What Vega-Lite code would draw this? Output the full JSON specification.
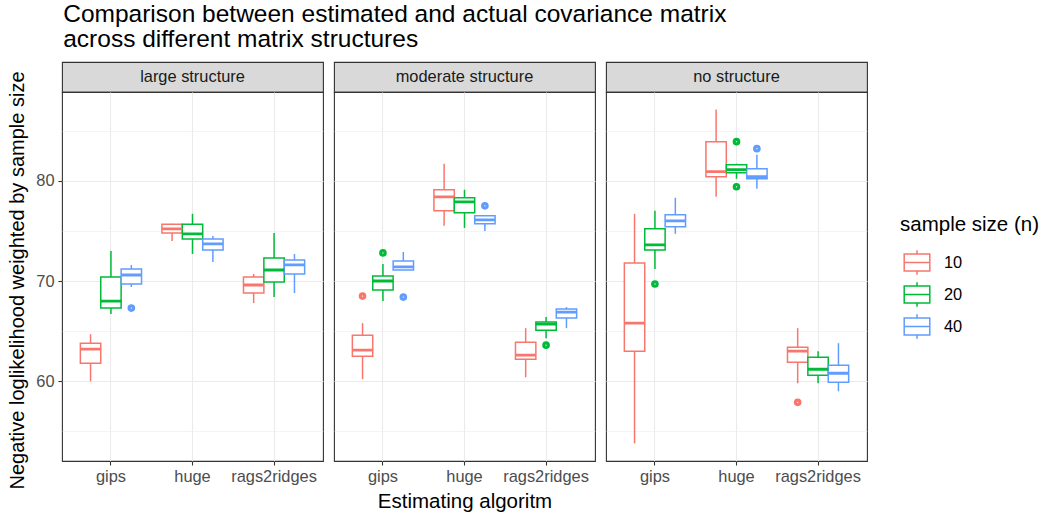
{
  "$schema": "https://vega.github.io/schema/vega-lite/v6.json",
  "background": "white",
  "padding": {"left": 7, "top": 2, "right": 5, "bottom": 5},
  "title": {"text": ["Comparison between estimated and actual covariance matrix", "across different matrix structures"], "anchor": "start", "fontSize": 24.5, "fontWeight": "normal", "color": "black", "lineHeight": 24.5, "offset": 9, "dx": 56, "font": "Liberation Sans"},
  "config": {
    "font": "Liberation Sans",
    "view": {"stroke": "#333333", "strokeWidth": 1.1},
    "axis": {"labelFont": "Liberation Sans", "labelColor": "#4D4D4D", "labelFontSize": 16.4, "tickColor": "#333333", "tickSize": 4, "tickWidth": 1.1, "domain": false, "gridColor": "#EBEBEB", "gridWidth": 1.1, "titleFont": "Liberation Sans", "titleFontSize": 20.5, "titleFontWeight": "normal", "titleColor": "black"},
    "legend": {"titleFont": "Liberation Sans", "titleFontSize": 20.5, "titleFontWeight": "normal", "titleColor": "black", "titlePadding": 13, "labelFont": "Liberation Sans", "labelFontSize": 16.4, "labelColor": "black"}
  },
  "datasets": {
    "strips": [
      {"structure": "large structure"},
      {"structure": "moderate structure"},
      {"structure": "no structure"}
    ],
    "boxes": [
      {"structure": "large structure", "algorithm": "gips", "n": "10", "lower": 60.0, "q1": 61.8, "median": 63.2, "q3": 63.8, "upper": 64.7},
      {"structure": "large structure", "algorithm": "gips", "n": "20", "lower": 66.7, "q1": 67.3, "median": 68.0, "q3": 70.4, "upper": 73.0},
      {"structure": "large structure", "algorithm": "gips", "n": "40", "lower": 69.4, "q1": 69.7, "median": 70.6, "q3": 71.2, "upper": 71.6},
      {"structure": "large structure", "algorithm": "huge", "n": "10", "lower": 74.0, "q1": 74.8, "median": 75.2, "q3": 75.65, "upper": 75.7},
      {"structure": "large structure", "algorithm": "huge", "n": "20", "lower": 72.7, "q1": 74.2, "median": 74.7, "q3": 75.65, "upper": 76.7},
      {"structure": "large structure", "algorithm": "huge", "n": "40", "lower": 71.9, "q1": 73.1, "median": 73.7, "q3": 74.2, "upper": 74.5},
      {"structure": "large structure", "algorithm": "rags2ridges", "n": "10", "lower": 67.8, "q1": 68.8, "median": 69.6, "q3": 70.4, "upper": 70.7},
      {"structure": "large structure", "algorithm": "rags2ridges", "n": "20", "lower": 68.4, "q1": 69.9, "median": 71.1, "q3": 72.3, "upper": 74.8},
      {"structure": "large structure", "algorithm": "rags2ridges", "n": "40", "lower": 68.8, "q1": 70.7, "median": 71.6, "q3": 72.1, "upper": 72.7},
      {"structure": "moderate structure", "algorithm": "gips", "n": "10", "lower": 60.2, "q1": 62.5, "median": 63.1, "q3": 64.6, "upper": 65.8},
      {"structure": "moderate structure", "algorithm": "gips", "n": "20", "lower": 68.0, "q1": 69.1, "median": 70.0, "q3": 70.5, "upper": 71.7},
      {"structure": "moderate structure", "algorithm": "gips", "n": "40", "lower": 71.1, "q1": 71.1, "median": 71.4, "q3": 72.0, "upper": 72.9},
      {"structure": "moderate structure", "algorithm": "huge", "n": "10", "lower": 75.5, "q1": 77.0, "median": 78.4, "q3": 79.1, "upper": 81.7},
      {"structure": "moderate structure", "algorithm": "huge", "n": "20", "lower": 75.3, "q1": 76.8, "median": 77.9, "q3": 78.3, "upper": 79.1},
      {"structure": "moderate structure", "algorithm": "huge", "n": "40", "lower": 75.0, "q1": 75.7, "median": 76.1, "q3": 76.5, "upper": 76.5},
      {"structure": "moderate structure", "algorithm": "rags2ridges", "n": "10", "lower": 60.4, "q1": 62.2, "median": 62.6, "q3": 63.9, "upper": 65.3},
      {"structure": "moderate structure", "algorithm": "rags2ridges", "n": "20", "lower": 64.3, "q1": 65.1, "median": 65.7, "q3": 65.9, "upper": 66.4},
      {"structure": "moderate structure", "algorithm": "rags2ridges", "n": "40", "lower": 65.3, "q1": 66.3, "median": 66.9, "q3": 67.2, "upper": 67.4},
      {"structure": "no structure", "algorithm": "gips", "n": "10", "lower": 53.8, "q1": 63.0, "median": 65.8, "q3": 71.8, "upper": 76.7},
      {"structure": "no structure", "algorithm": "gips", "n": "20", "lower": 71.2, "q1": 73.1, "median": 73.6, "q3": 75.2, "upper": 77.0},
      {"structure": "no structure", "algorithm": "gips", "n": "40", "lower": 74.7, "q1": 75.4, "median": 76.0, "q3": 76.6, "upper": 78.3},
      {"structure": "no structure", "algorithm": "huge", "n": "10", "lower": 78.4, "q1": 80.4, "median": 80.9, "q3": 83.9, "upper": 87.1},
      {"structure": "no structure", "algorithm": "huge", "n": "20", "lower": 80.2, "q1": 80.8, "median": 81.1, "q3": 81.6, "upper": 81.7},
      {"structure": "no structure", "algorithm": "huge", "n": "40", "lower": 79.2, "q1": 80.2, "median": 80.4, "q3": 81.2, "upper": 82.6},
      {"structure": "no structure", "algorithm": "rags2ridges", "n": "10", "lower": 59.8, "q1": 61.9, "median": 63.0, "q3": 63.4, "upper": 65.3},
      {"structure": "no structure", "algorithm": "rags2ridges", "n": "20", "lower": 59.8, "q1": 60.6, "median": 61.2, "q3": 62.4, "upper": 63.0},
      {"structure": "no structure", "algorithm": "rags2ridges", "n": "40", "lower": 59.0, "q1": 59.9, "median": 60.8, "q3": 61.6, "upper": 63.8}
    ],
    "outliers": [
      {"structure": "large structure", "algorithm": "gips", "n": "40", "value": 67.3},
      {"structure": "moderate structure", "algorithm": "gips", "n": "10", "value": 68.5},
      {"structure": "moderate structure", "algorithm": "gips", "n": "20", "value": 72.8},
      {"structure": "moderate structure", "algorithm": "gips", "n": "40", "value": 68.4},
      {"structure": "moderate structure", "algorithm": "huge", "n": "40", "value": 77.5},
      {"structure": "moderate structure", "algorithm": "rags2ridges", "n": "20", "value": 63.6},
      {"structure": "no structure", "algorithm": "gips", "n": "20", "value": 69.7},
      {"structure": "no structure", "algorithm": "huge", "n": "20", "value": 83.9},
      {"structure": "no structure", "algorithm": "huge", "n": "20", "value": 79.4},
      {"structure": "no structure", "algorithm": "huge", "n": "40", "value": 83.2},
      {"structure": "no structure", "algorithm": "rags2ridges", "n": "10", "value": 57.9}
    ]
  },
  "resolve": {"scale": {"stroke": "shared"}, "legend": {"stroke": "shared"}},
  "spacing": 9,
  "hconcat": [
    {
      "spacing": 0,
      "bounds": "flush",
      "vconcat": [
        {"width": 261, "height": 30, "data": {"name": "strips"}, "transform": [{"filter": "datum.structure === 'large structure'"}], "view": {"fill": "#D9D9D9", "stroke": "#333333", "strokeWidth": 1.1}, "mark": {"type": "text", "fontSize": 16.4, "color": "#1A1A1A"}, "encoding": {"text": {"field": "structure"}}},
        {"width": 261, "height": 369, "layer": [
          {"data": {"name": "boxes"}, "transform": [{"filter": "datum.structure === 'large structure'"}], "mark": {"type": "rule", "strokeWidth": 1.5}, "encoding": {
            "x": {"field": "algorithm", "type": "nominal", "scale": {"domain": ["gips", "huge", "rags2ridges"], "paddingInner": 0, "paddingOuter": 0.1}, "axis": {"title": null, "labelAngle": 0, "bandPosition": 0.5, "grid": true, "labelPadding": 3}},
            "xOffset": {"field": "n", "type": "nominal", "scale": {"domain": ["10", "20", "40"], "paddingInner": 0, "paddingOuter": 0.5}},
            "y": {"field": "lower", "type": "quantitative", "scale": {"domain": [52.05, 88.85], "nice": false, "zero": false}, "axis": {"title": "Negative loglikelihood weighted by sample size", "titleFontSize": 20, "titleY": 188, "values": [55, 60, 65, 70, 75, 80, 85], "labelExpr": "datum.value % 10 === 0 ? datum.label : ''", "gridWidth": {"condition": {"test": "datum.value % 10 === 0", "value": 1.1}, "value": 0.55}, "tickOpacity": {"condition": {"test": "datum.value % 10 === 0", "value": 1}, "value": 0}, "titlePadding": 8, "labelPadding": 4}},
            "y2": {"field": "upper"},
            "stroke": {"field": "n", "type": "nominal", "title": "sample size (n)", "scale": {"domain": ["10", "20", "40"], "range": ["#F8766D", "#00BA38", "#619CFF"]}, "legend": {"orient": "none", "legendX": 838, "legendY": 153, "symbolType": "M-1,-0.66H1V0.66H-1Z M-1,0H1 M0,-0.66V-0.95 M0,0.66V0.95", "symbolSize": 655, "symbolFillColor": "white", "symbolStrokeWidth": 1.5, "symbolOffset": 3, "labelOffset": 13, "rowPadding": 0}}
          }},
          {"data": {"name": "boxes"}, "transform": [{"filter": "datum.structure === 'large structure'"}], "mark": {"type": "bar", "fill": "white", "strokeWidth": 1.5}, "encoding": {
            "x": {"field": "algorithm", "type": "nominal"},
            "xOffset": {"field": "n", "type": "nominal"},
            "y": {"field": "q1", "type": "quantitative"},
            "y2": {"field": "q3"},
            "stroke": {"field": "n", "type": "nominal", "title": "sample size (n)"}
          }},
          {"data": {"name": "boxes"}, "transform": [{"filter": "datum.structure === 'large structure'"}], "mark": {"type": "bar", "fill": "white", "strokeWidth": 2.8}, "encoding": {
            "x": {"field": "algorithm", "type": "nominal"},
            "xOffset": {"field": "n", "type": "nominal"},
            "y": {"field": "median", "type": "quantitative"},
            "y2": {"field": "median"},
            "stroke": {"field": "n", "type": "nominal", "title": "sample size (n)"}
          }},
          {"data": {"name": "outliers"}, "transform": [{"filter": "datum.structure === 'large structure'"}], "mark": {"type": "point", "shape": "circle", "filled": false, "size": 10, "strokeWidth": 4.5, "opacity": 1}, "encoding": {
            "x": {"field": "algorithm", "type": "nominal"},
            "xOffset": {"field": "n", "type": "nominal"},
            "y": {"field": "value", "type": "quantitative"},
            "stroke": {"field": "n", "type": "nominal", "title": "sample size (n)"}
          }}
        ]}
      ]
    },
    {
      "spacing": 0,
      "bounds": "flush",
      "vconcat": [
        {"width": 261, "height": 30, "data": {"name": "strips"}, "transform": [{"filter": "datum.structure === 'moderate structure'"}], "view": {"fill": "#D9D9D9", "stroke": "#333333", "strokeWidth": 1.1}, "mark": {"type": "text", "fontSize": 16.4, "color": "#1A1A1A"}, "encoding": {"text": {"field": "structure"}}},
        {"width": 261, "height": 369, "layer": [
          {"data": {"name": "boxes"}, "transform": [{"filter": "datum.structure === 'moderate structure'"}], "mark": {"type": "rule", "strokeWidth": 1.5}, "encoding": {
            "x": {"field": "algorithm", "type": "nominal", "scale": {"domain": ["gips", "huge", "rags2ridges"], "paddingInner": 0, "paddingOuter": 0.1}, "axis": {"title": "Estimating algoritm", "labelAngle": 0, "bandPosition": 0.5, "grid": true, "labelPadding": 3, "titlePadding": 7}},
            "xOffset": {"field": "n", "type": "nominal", "scale": {"domain": ["10", "20", "40"], "paddingInner": 0, "paddingOuter": 0.5}},
            "y": {"field": "lower", "type": "quantitative", "scale": {"domain": [52.05, 88.85], "nice": false, "zero": false}, "axis": {"title": null, "values": [55, 60, 65, 70, 75, 80, 85], "labels": false, "ticks": false, "gridWidth": {"condition": {"test": "datum.value % 10 === 0", "value": 1.1}, "value": 0.55}}},
            "y2": {"field": "upper"},
            "stroke": {"field": "n", "type": "nominal", "title": "sample size (n)", "scale": {"domain": ["10", "20", "40"], "range": ["#F8766D", "#00BA38", "#619CFF"]}}
          }},
          {"data": {"name": "boxes"}, "transform": [{"filter": "datum.structure === 'moderate structure'"}], "mark": {"type": "bar", "fill": "white", "strokeWidth": 1.5}, "encoding": {
            "x": {"field": "algorithm", "type": "nominal"},
            "xOffset": {"field": "n", "type": "nominal"},
            "y": {"field": "q1", "type": "quantitative"},
            "y2": {"field": "q3"},
            "stroke": {"field": "n", "type": "nominal", "title": "sample size (n)"}
          }},
          {"data": {"name": "boxes"}, "transform": [{"filter": "datum.structure === 'moderate structure'"}], "mark": {"type": "bar", "fill": "white", "strokeWidth": 2.8}, "encoding": {
            "x": {"field": "algorithm", "type": "nominal"},
            "xOffset": {"field": "n", "type": "nominal"},
            "y": {"field": "median", "type": "quantitative"},
            "y2": {"field": "median"},
            "stroke": {"field": "n", "type": "nominal", "title": "sample size (n)"}
          }},
          {"data": {"name": "outliers"}, "transform": [{"filter": "datum.structure === 'moderate structure'"}], "mark": {"type": "point", "shape": "circle", "filled": false, "size": 10, "strokeWidth": 4.5, "opacity": 1}, "encoding": {
            "x": {"field": "algorithm", "type": "nominal"},
            "xOffset": {"field": "n", "type": "nominal"},
            "y": {"field": "value", "type": "quantitative"},
            "stroke": {"field": "n", "type": "nominal", "title": "sample size (n)"}
          }}
        ]}
      ]
    },
    {
      "spacing": 0,
      "bounds": "flush",
      "vconcat": [
        {"width": 261, "height": 30, "data": {"name": "strips"}, "transform": [{"filter": "datum.structure === 'no structure'"}], "view": {"fill": "#D9D9D9", "stroke": "#333333", "strokeWidth": 1.1}, "mark": {"type": "text", "fontSize": 16.4, "color": "#1A1A1A"}, "encoding": {"text": {"field": "structure"}}},
        {"width": 261, "height": 369, "layer": [
          {"data": {"name": "boxes"}, "transform": [{"filter": "datum.structure === 'no structure'"}], "mark": {"type": "rule", "strokeWidth": 1.5}, "encoding": {
            "x": {"field": "algorithm", "type": "nominal", "scale": {"domain": ["gips", "huge", "rags2ridges"], "paddingInner": 0, "paddingOuter": 0.1}, "axis": {"title": null, "labelAngle": 0, "bandPosition": 0.5, "grid": true, "labelPadding": 3}},
            "xOffset": {"field": "n", "type": "nominal", "scale": {"domain": ["10", "20", "40"], "paddingInner": 0, "paddingOuter": 0.5}},
            "y": {"field": "lower", "type": "quantitative", "scale": {"domain": [52.05, 88.85], "nice": false, "zero": false}, "axis": {"title": null, "values": [55, 60, 65, 70, 75, 80, 85], "labels": false, "ticks": false, "gridWidth": {"condition": {"test": "datum.value % 10 === 0", "value": 1.1}, "value": 0.55}}},
            "y2": {"field": "upper"},
            "stroke": {"field": "n", "type": "nominal", "title": "sample size (n)", "scale": {"domain": ["10", "20", "40"], "range": ["#F8766D", "#00BA38", "#619CFF"]}}
          }},
          {"data": {"name": "boxes"}, "transform": [{"filter": "datum.structure === 'no structure'"}], "mark": {"type": "bar", "fill": "white", "strokeWidth": 1.5}, "encoding": {
            "x": {"field": "algorithm", "type": "nominal"},
            "xOffset": {"field": "n", "type": "nominal"},
            "y": {"field": "q1", "type": "quantitative"},
            "y2": {"field": "q3"},
            "stroke": {"field": "n", "type": "nominal", "title": "sample size (n)"}
          }},
          {"data": {"name": "boxes"}, "transform": [{"filter": "datum.structure === 'no structure'"}], "mark": {"type": "bar", "fill": "white", "strokeWidth": 2.8}, "encoding": {
            "x": {"field": "algorithm", "type": "nominal"},
            "xOffset": {"field": "n", "type": "nominal"},
            "y": {"field": "median", "type": "quantitative"},
            "y2": {"field": "median"},
            "stroke": {"field": "n", "type": "nominal", "title": "sample size (n)"}
          }},
          {"data": {"name": "outliers"}, "transform": [{"filter": "datum.structure === 'no structure'"}], "mark": {"type": "point", "shape": "circle", "filled": false, "size": 10, "strokeWidth": 4.5, "opacity": 1}, "encoding": {
            "x": {"field": "algorithm", "type": "nominal"},
            "xOffset": {"field": "n", "type": "nominal"},
            "y": {"field": "value", "type": "quantitative"},
            "stroke": {"field": "n", "type": "nominal", "title": "sample size (n)"}
          }}
        ]}
      ]
    }
  ]
}
